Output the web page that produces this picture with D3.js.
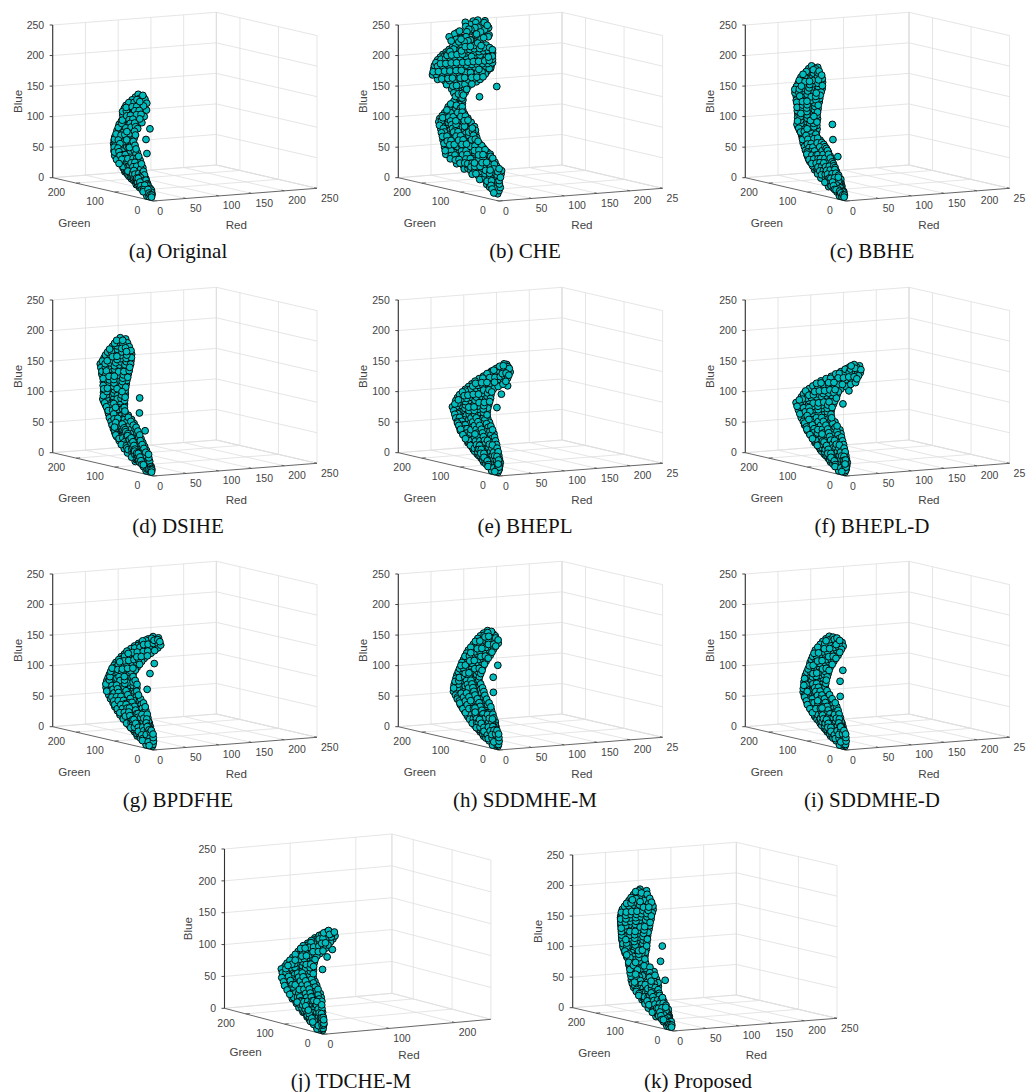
<!DOCTYPE html>
<html>
<head>
<meta charset="utf-8">
<style>
  html, body { margin: 0; background: #fff; }
  .tick-label { font: 10.5px "Liberation Sans", sans-serif; fill: #444; }
  .axis-label { font: 11.6px "Liberation Sans", sans-serif; fill: #444; }
  .caption { font: 21px "Liberation Serif", serif; fill: #111; text-anchor: middle; }
</style>
<script src="https://cdn.jsdelivr.net/npm/d3@7"></script>
</head>
<body>
<svg id="chart" width="1026" height="1092"></svg>
<script>
// rows are [red, blue, green, green, ...]
const pointsA = [[2,5,8,14,20],[4,10,10,18,26,33],[6,15,15,24,35,46],[8,20,27,36,47,58],[9,25,32,45,58,72],[11,30,38,52,66,78,85],[13,35,45,60,75,88,95],[15,40,51,68,84,97,104],[17,45,56,72,90,105,115],[19,50,63,80,98,114,126],[21,55,70,88,106,122,134],[23,60,77,95,112,128,141],[25,65,84,102,120,134,144],[26,70,89,106,124,138,147],[28,75,95,112,128,149],[30,80,103,120,136,151],[32,85,104,122,138,151],[34,90,104,118,135,152],[36,95,110,126,142,152],[38,100,105,122,138,153],[40,105,110,128,144,151],[42,110,101,118,134,150],[43,115,108,126,142,152],[45,120,100,120,138,156],[47,125,110,128,146,155],[49,130,101,120,138,154],[51,135,112,130,150],[53,140,107,125,145],[55,145,115,128,140],[57,150,124,136],[39,104,75],[33,87,75],[25,67,59]]
const fillA = [[5,12,14,22,30],[7,17,20,32,44],[9,22,32,44,56],[10,27,40,54,68],[12,32,46,60,74],[14,37,52,68,84],[16,42,60,76,92,104],[18,47,66,84,100,116],[20,52,74,92,108,126],[22,57,80,98,116,132],[24,62,86,104,122,136],[26,67,94,112,130,144],[28,72,100,118,134,146],[29,77,104,122,140,150],[33,87,110,130,146],[35,92,112,128,146],[37,97,116,134,148],[39,102,112,130,148],[41,107,118,136,150],[43,112,110,126,144],[44,117,116,134,150],[46,122,110,130,148],[48,127,118,136,152],[50,132,110,128,146],[52,137,118,138],[54,142,116,134],[56,147,120,134]]
const pointsB = [[4,10,10,20],[6,15,10,20,28],[8,20,10,22,34,45],[9,25,14,28,46,65],[11,30,18,36,54,72,88],[13,35,18,38,58,76,95,112],[15,40,20,40,60,80,98,118,135],[17,45,22,42,62,84,104,126,142,155],[19,50,38,56,76,96,118,138,156,170],[21,55,46,66,88,110,130,150,175],[23,60,55,72,92,114,136,158,180],[25,65,65,84,106,128,150,170,185],[26,70,80,98,118,140,160,178,189],[28,75,92,110,132,152,174,194],[30,80,105,122,142,162,184,200],[32,85,112,132,152,172,192,205],[34,90,118,136,158,178,198,212],[36,95,122,142,162,184,204,217],[38,100,128,148,168,190,208,218],[40,105,140,158,178,198,215],[42,110,152,170,190,212],[43,115,162,180,196,208],[45,120,170,188,208],[47,125,175,190,205],[49,130,178,190,200],[51,135,180,196],[29,145,145,155,162],[30,150,143,156,168],[31,155,140,158,175],[32,160,138,156,174,190],[33,165,136,156,176,196,215],[34,170,128,148,170,190,212,230],[35,175,118,138,160,182,206,230],[36,180,110,132,154,178,202,218,230],[37,185,104,126,150,174,198,222,230],[38,190,100,120,144,168,192,216,228],[39,195,97,118,140,164,190,212,225],[40,200,93,114,138,162,186,206,220],[41,205,90,112,136,160,184,204,215],[42,210,88,108,132,156,180,198,208],[43,215,90,112,136,160,182,202],[44,220,92,114,138,162,184,195],[45,225,93,116,140,164,188],[46,230,95,118,142,166,182],[47,235,113,135,160,178],[40,250,170],[60,250,180],[80,250,190],[100,250,200],[100,250,230],[115,250,250],[90,250,240],[105,250,245],[120,250,240],[30,240,180],[50,240,170],[70,240,180],[85,240,170],[60,240,210],[50,240,200],[80,240,210],[100,240,210],[35,175,65],[31,153,103]]
const fillB = [[7,17,15,24,36],[10,27,20,36,56],[12,32,26,44,64,80],[14,37,28,48,68,86,104],[16,42,30,50,70,90,108,128],[18,47,30,52,74,94,114,134,150],[20,52,46,66,86,108,128,148,164],[22,57,56,78,100,120,140,162],[24,62,62,82,104,126,148,170],[26,67,74,96,118,140,160,180],[27,72,86,108,130,152,170,186],[29,77,100,122,142,164,184],[31,82,114,132,152,172,194],[33,87,122,142,162,182,200],[35,92,128,148,170,190,208],[37,97,132,152,174,194,212],[39,102,138,158,178,198,212],[41,107,150,168,188,206],[43,112,160,178,198],[44,117,170,188,204],[46,122,178,196],[48,127,184,198],[30,147,150,160],[31,152,148,162],[32,157,150,166],[33,162,146,166,184],[34,167,146,166,186,206],[35,172,138,160,180,202,222],[36,177,128,150,172,194,218],[37,182,120,144,166,190,210],[38,187,114,138,162,186,210],[39,192,110,132,156,180,204,222],[40,197,106,130,152,178,200,218],[41,202,104,126,150,174,196,212],[42,207,100,124,148,172,194,206],[43,212,98,120,144,168,190,200],[44,217,102,124,150,172,192],[45,222,104,128,152,174],[46,227,106,128,152,176],[47,232,104,126,150,170],[60,245,160,185],[75,245,175,200],[90,245,190,215],[105,245,205,225],[85,250,220],[70,250,205],[110,250,225],[55,240,140],[65,240,150],[45,238,150],[75,240,155],[38,236,175],[36,232,185],[16,44,60,68,76,84,92,100,108,116],[18,46,70,80,90,100,110,120,130,140],[70,230,185,190,195,200,205,210,215],[60,205,125,128,131,134,137],[58,195,120,123,126,129,132]]
const pointsC = [[2,5,8,14,20],[4,10,12,20,30],[6,15,20,32,44,55],[8,20,24,38,54,68],[9,25,28,44,62,80],[11,30,32,48,66,82,92],[13,35,41,58,74,90,103],[15,40,50,66,82,98,112],[17,45,57,72,90,106,122],[19,50,65,82,98,116,130],[21,55,72,90,106,124,137],[23,60,80,98,114,132,144],[25,65,88,104,122,138,150],[26,70,95,112,128,144,155],[28,75,105,122,140,160],[30,80,118,134,150,165],[32,85,131,146,160,172],[34,90,134,150,166,180],[36,95,136,154,172,188],[38,100,140,158,176,190],[40,105,143,160,178,193],[42,110,145,164,182,196],[43,115,148,166,184,199],[45,120,150,170,188,203],[47,125,152,172,192,206],[49,130,155,176,196,212],[51,135,156,176,198,215],[53,140,158,180,202,222],[55,145,160,182,206,226],[57,150,161,184,206,225],[59,155,162,184,206,224],[60,160,163,186,208,223],[62,165,166,188,208,222],[64,170,170,194,220],[66,175,175,196,215],[68,180,185,200,212],[70,185,192,208],[40,107,103],[32,85,88],[23,62,60]]
const fillC = [[5,12,16,25],[7,17,26,38,50],[9,22,32,46,62],[10,27,36,52,70],[12,32,40,58,74,88],[14,37,50,66,82,98],[16,42,56,74,90,106],[18,47,62,80,98,114,126],[20,52,70,88,106,124],[22,57,78,96,114,130],[24,62,86,104,122,140],[26,67,92,110,130,146],[27,72,100,118,136,150],[29,77,112,130,148,162],[31,82,126,140,156,168],[33,87,134,148,164,176],[35,92,144,160,176,184],[37,97,146,164,180],[39,102,150,168,184],[41,107,154,170,188],[43,112,156,174,190],[44,117,158,176,192],[46,122,160,180,196],[48,127,162,182,200,209],[50,132,166,186,206],[52,137,166,188,208],[54,142,170,192,214],[56,147,172,194,216],[58,152,172,194,214],[60,157,174,196,214],[61,162,176,198,216],[63,167,178,198,214],[65,172,184,206],[67,177,186,204],[69,182,196,208]]
const pointsD = [[2,5,8,15,22],[4,10,11,21,32],[6,15,19,31,45,57],[8,20,23,39,55,70],[9,25,27,45,63,82],[11,30,31,49,67,84,94],[13,35,40,57,75,92,105],[15,40,48,65,83,100,114],[17,45,56,73,91,108,124],[19,50,64,81,99,117,132],[21,55,71,89,107,125,139],[23,60,79,97,115,133,146],[25,65,87,105,123,140,152],[26,70,94,113,130,146,158],[28,75,104,123,142,163],[30,80,116,135,152,168],[32,85,128,146,162,176],[34,90,133,151,168,184],[36,95,136,155,174,192],[38,100,139,158,178,194],[40,105,141,161,180,197],[42,110,144,164,184,200],[43,115,146,167,186,203],[45,120,148,170,190,206],[47,125,150,172,194,210],[49,130,152,175,198,216],[51,135,153,176,200,220],[53,140,155,180,204,226],[55,145,156,182,208,231],[57,150,158,184,208,229],[59,155,159,184,208,228],[60,160,160,186,208,226],[62,165,162,188,208,224],[64,170,165,190,212,222],[66,175,170,194,218],[68,180,178,198,216],[70,185,186,204,214],[72,190,194,208],[41,109,105],[33,87,92],[24,63,62]]
const fillD = [[5,12,16,26],[7,17,25,38,50],[9,22,31,47,63],[10,27,36,54,72],[12,32,40,58,76,89],[14,37,48,66,84,100],[16,42,56,74,92,108],[18,47,64,82,100,116,128],[20,52,72,90,108,126],[22,57,80,98,116,134],[24,62,88,106,124,142],[26,67,96,114,134,148],[27,72,104,122,138,154],[29,77,114,132,152,166],[31,82,126,142,158,172],[33,87,136,154,170,180],[35,92,146,162,180,188],[37,97,148,166,184],[39,102,150,170,188],[41,107,152,172,190],[43,112,154,174,192],[44,117,156,178,196],[46,122,160,180,200],[48,127,162,184,204],[50,132,164,186,208,218],[52,137,166,188,210],[54,142,168,192,216],[56,147,170,196,220],[58,152,172,196,218],[60,157,172,196,218],[61,162,174,198,216],[63,167,176,200,216],[65,172,180,204],[67,177,186,208],[69,182,196,210],[71,187,200]]
const pointsE = [[2,5,6,14,22],[4,10,6,20,35],[6,15,8,22,36,50],[8,20,10,26,44,60],[9,25,14,32,52,72],[11,30,19,38,60,85],[13,35,24,44,64,82,96],[15,40,30,52,72,92,105],[17,45,35,56,78,98,115],[19,50,41,62,84,106,125],[21,55,47,68,92,114,135],[23,60,52,74,98,122,143],[25,65,59,82,106,128,150],[26,70,65,88,112,134,156],[28,75,72,96,120,144,162],[30,80,80,104,128,150,168],[32,85,85,108,132,156,175],[34,90,88,112,136,156,172],[36,95,90,114,138,160,173],[38,100,91,116,140,160,172],[40,105,92,116,140,158,170],[42,110,93,116,138,156,166],[43,115,94,116,136,160],[45,120,95,116,136,155],[47,125,94,114,134,150],[49,130,85,106,128,145],[51,135,76,98,120,138],[53,140,72,92,114,130],[55,145,71,90,110,124],[57,150,71,88,104,116],[59,155,71,86,108],[60,160,75,88,100],[62,165,85,92],[51,134,64],[45,120,70],[37,99,68]]
const fillE = [[3,7,10,20],[5,12,12,26],[7,17,14,28,44],[9,22,18,36,54],[10,27,24,44,64],[12,32,30,50,72,84],[14,37,34,54,74,92],[16,42,42,62,82,100],[18,47,46,68,88,108],[20,52,52,74,96,116,128],[22,57,58,80,104,126],[24,62,64,86,110,134],[26,67,72,94,118,140],[27,72,78,100,124,148],[29,77,86,108,134,156],[31,82,92,116,140,162],[33,87,96,120,144,166],[35,92,100,124,146,166],[37,97,102,126,150,168],[39,102,104,128,150,168],[41,107,104,128,150,164],[43,112,104,126,148,160],[44,117,104,126,148],[46,122,104,126,146],[48,127,104,124,142],[50,132,94,116,136],[52,137,86,108,130],[54,142,80,102,122],[56,147,80,100,118],[58,152,80,96,112],[60,157,78,94,104],[61,162,80,92]]
const pointsF = [[2,5,6,14,22],[4,10,6,20,35],[6,15,8,22,38,50],[8,20,10,28,46,60],[9,25,14,32,54,72],[11,30,19,40,62,85],[13,35,24,46,68,84,96],[15,40,30,50,74,92,105],[17,45,35,58,80,100,116],[19,50,41,64,86,108,127],[21,55,47,70,94,116,137],[23,60,52,76,100,124,146],[25,65,58,84,108,132,153],[26,70,67,92,116,140,160],[28,75,76,100,124,148,167],[30,80,88,112,136,156,174],[32,85,93,116,140,164,181],[34,90,96,120,144,168,187],[36,95,97,122,146,168,182],[38,100,97,122,146,166,180],[40,105,97,120,144,164,178],[42,110,96,120,144,164,176],[43,115,96,118,142,168],[45,120,96,118,140,162],[47,125,93,114,136,156],[49,130,82,106,128,148],[51,135,74,96,118,138],[53,140,68,90,110,128],[55,145,65,86,104,120],[57,150,64,82,98,110],[59,155,63,80,102],[60,160,63,78,92],[62,165,70,84],[53,139,65],[47,125,72],[39,104,74]]
const fillF = [[3,7,10,20],[5,12,12,28],[7,17,14,30,44],[9,22,20,38,54],[10,27,24,44,64],[12,32,30,52,74,86],[14,37,36,56,76,92],[16,42,40,62,84,100],[18,47,46,70,90,110],[20,52,52,76,98,118,130],[22,57,58,82,106,128],[24,62,64,88,112,136],[26,67,72,96,120,146],[27,72,80,104,128,152],[29,77,88,112,136,160],[31,82,100,124,146,166],[33,87,104,128,152,174],[35,92,108,132,156,178],[37,97,110,134,158,176],[39,102,110,134,156,172],[41,107,108,132,154,170],[43,112,108,132,154],[44,117,106,130,156],[46,122,106,130,152],[48,127,104,126,146],[50,132,94,116,138],[52,137,84,106,128],[54,142,78,98,118],[56,147,74,94,112],[58,152,72,90,104],[60,157,72,90,98],[61,162,76,90]]
const pointsG = [[2,5,6,14,22],[4,10,8,20,35],[6,15,14,28,40,52],[8,20,18,32,48,62],[9,25,23,40,58,74],[11,30,28,46,68,88],[13,35,34,52,68,86,100],[15,40,38,58,78,98,112],[17,45,43,64,84,104,122],[19,50,48,70,92,112,132],[21,55,55,76,98,120,140],[23,60,60,84,106,130,150],[25,65,68,92,116,138,158],[26,70,77,100,124,146,165],[28,75,86,108,132,152,170],[30,80,94,116,138,158,174],[32,85,97,120,142,160,175],[34,90,100,122,144,162,175],[36,95,108,128,150,175],[38,100,117,136,156,175],[40,105,120,140,160,175],[42,110,118,138,158,173],[43,115,115,134,154,170],[45,120,112,132,152,166],[47,125,110,130,150,163],[49,130,107,126,144,158],[51,135,102,122,140,155],[53,140,96,116,134,148],[55,145,90,110,128,142],[57,150,85,104,122,135],[59,155,81,100,116,128],[60,160,85,100,115],[62,165,92,106],[48,126,79],[42,110,80],[33,86,72]]
const fillG = [[3,7,10,22],[5,12,14,28],[7,17,20,34,46],[9,22,26,40,54],[10,27,32,50,66],[12,32,36,58,78],[14,37,42,60,78,94],[16,42,48,68,88,104],[18,47,54,74,94,114],[20,52,58,80,102,122],[22,57,66,86,108,130],[24,62,72,96,118,140],[26,67,80,104,128,150],[27,72,90,112,136,158],[29,77,98,120,142,164],[31,82,104,128,148,168],[33,87,108,130,150,170],[35,92,112,134,154,172],[37,97,118,138,160],[39,102,128,148,166],[41,107,128,150,168],[43,112,126,146,164],[44,117,124,144,162],[46,122,122,142,160],[48,127,120,140,156],[50,132,116,134,150],[52,137,112,130,148],[54,142,106,124,140],[56,147,100,118,134],[58,152,94,112,128],[60,157,90,108,122],[61,162,92,108]]
const pointsH = [[2,5,6,13,20],[4,10,8,20,32],[6,15,14,28,40,50],[8,20,18,32,48,62],[9,25,22,38,56,74],[11,30,27,46,66,88],[13,35,32,50,66,84,98],[15,40,35,54,72,92,108],[17,45,42,62,82,102,118],[19,50,48,68,90,110,128],[21,55,55,76,96,118,137],[23,60,60,82,104,126,147],[25,65,68,90,112,134,155],[26,70,76,98,120,142,162],[28,75,84,104,126,146,165],[30,80,90,110,130,150,167],[32,85,97,116,136,154,168],[34,90,105,124,142,169],[36,95,113,132,150,170],[38,100,115,134,152,170],[40,105,115,136,154,170],[42,110,115,134,152,170],[43,115,115,136,154,169],[45,120,114,134,152,168],[47,125,113,132,150,168],[49,130,111,130,150,167],[51,135,109,128,148,166],[53,140,108,128,146,163],[55,145,107,126,144,160],[57,150,105,124,142,158],[59,155,102,122,140,155],[60,160,104,122,138,150],[62,165,115,130,145],[64,170,128,138],[46,123,81],[39,104,81],[31,82,67]]
const fillH = [[3,7,10,18],[5,12,14,26],[7,17,22,34,46],[9,22,24,40,54],[10,27,30,46,66],[12,32,36,56,78],[14,37,40,58,74,90],[16,42,44,62,82,100],[18,47,52,72,92,110],[20,52,58,78,100,120],[22,57,66,86,106,128],[24,62,70,92,114,136],[26,67,78,100,122,146],[27,72,86,108,130,152],[29,77,94,114,136,156],[31,82,100,120,140,158],[33,87,106,126,146,160],[35,92,114,132,152,162],[37,97,122,140,160],[39,102,124,144,160],[41,107,124,144,162],[43,112,124,144,160],[44,117,124,144,160],[46,122,122,142,160],[48,127,122,140,158],[50,132,120,140,158],[52,137,118,138,156],[54,142,116,136,154],[56,147,114,134,150],[58,152,112,130,148],[60,157,110,130,146],[61,162,112,130,142],[63,167,122,136]]
const pointsI = [[2,5,6,13,20],[4,10,8,20,32],[6,15,14,28,40,50],[8,20,18,32,48,62],[9,25,22,38,56,72],[11,30,27,44,64,85],[13,35,34,52,68,84,97],[15,40,38,56,74,92,107],[17,45,43,62,82,100,117],[19,50,50,70,90,110,127],[21,55,56,76,96,116,134],[23,60,63,84,104,124,142],[25,65,70,90,110,130,150],[26,70,80,98,118,138,155],[28,75,90,108,126,144,158],[30,80,100,116,132,148,160],[32,85,108,124,140,163],[34,90,110,128,146,165],[36,95,112,130,148,166],[38,100,113,132,150,166],[40,105,114,134,152,166],[42,110,115,132,150,166],[43,115,114,134,152,166],[45,120,112,130,150,166],[47,125,111,130,148,166],[49,130,109,128,148,166],[51,135,107,126,146,166],[53,140,106,126,146,163],[55,145,105,124,142,160],[57,150,104,122,140,157],[59,155,110,126,142,152],[60,160,125,135,145],[43,115,81],[37,98,78],[29,76,64]]
const fillI = [[3,7,10,18],[5,12,14,26],[7,17,22,34,46],[9,22,24,40,54],[10,27,30,46,64],[12,32,34,54,74],[14,37,42,60,76,90],[16,42,46,64,82,100],[18,47,52,72,90,110],[20,52,60,80,100,120],[22,57,68,86,106,126],[24,62,74,94,114,134],[26,67,80,100,120,142],[27,72,90,108,128,146],[29,77,98,116,134,152],[31,82,108,124,140,156],[33,87,116,132,150],[35,92,120,138,156],[37,97,122,140,158],[39,102,122,142,158],[41,107,124,142,160],[43,112,124,142,158],[44,117,124,142,160],[46,122,122,140,158],[48,127,120,140,158],[50,132,118,138,156],[52,137,116,136,156],[54,142,116,134,154],[56,147,114,132,150],[58,152,116,134,150],[60,157,118,132,148]]
const pointsJ = [[2,5,6,13,20],[4,10,8,20,32],[6,15,9,22,34,46],[8,20,13,26,42,55],[9,25,17,32,48,65],[11,30,21,38,58,78],[13,35,26,44,60,76,90],[15,40,30,48,66,84,102],[17,45,33,52,72,92,110],[19,50,38,58,78,98,118],[21,55,44,64,86,106,127],[23,60,53,72,94,114,135],[25,65,60,80,102,122,143],[26,70,66,88,108,130,150],[28,75,74,94,114,136,156],[30,80,77,96,116,136,150],[32,85,80,100,120,136,148],[34,90,83,102,122,144],[36,95,85,104,122,140],[38,100,86,104,120,137],[40,105,85,102,118,133],[42,110,80,98,114,130],[43,115,74,92,110,125],[45,120,70,88,104,117],[47,125,68,84,100,111],[49,130,65,80,94,105],[51,135,62,76,88,97],[53,140,60,74,89],[55,145,65,80],[46,120,55],[41,108,60],[34,89,60]]
const fillJ = [[3,7,10,18],[5,12,12,26],[7,17,16,28,40],[9,22,20,34,50],[10,27,24,40,60],[12,32,28,46,68],[14,37,34,52,68,84],[16,42,38,56,74,94],[18,47,42,62,82,102],[20,52,48,68,88,110],[22,57,54,74,96,118],[24,62,62,82,104,126],[26,67,70,90,112,134],[27,72,76,98,120,142],[29,77,84,104,126,146],[31,82,86,106,126,144],[33,87,90,110,130,142],[35,92,92,112,132],[37,97,94,112,130],[39,102,94,110,128],[41,107,92,108,124],[43,112,86,104,120],[44,117,82,100,116],[46,122,78,96,110],[48,127,76,92,104],[50,132,72,86,98],[52,137,68,82,92],[54,142,70,84]]
const pointsK = [[2,5,8,14,20],[4,10,12,22,32],[6,15,20,32,44,55],[8,20,24,38,54,68],[9,25,28,44,62,80],[11,30,32,48,66,82,92],[13,35,41,58,74,90,103],[15,40,50,66,84,100,115],[17,45,57,74,92,110,125],[19,50,69,84,102,120,135],[21,55,75,92,110,128,142],[23,60,78,96,116,134,148],[25,65,82,100,120,138,152],[26,70,88,106,124,142,156],[28,75,95,112,130,146,160],[30,80,101,118,134,150,165],[32,85,115,130,146,170],[34,90,130,146,160,175],[36,95,135,150,166,182],[38,100,138,154,172,190],[40,105,140,158,178,198],[42,110,141,160,182,202],[43,115,142,164,186,206],[45,120,145,166,188,210],[47,125,147,168,192,214],[49,130,150,172,196,218],[51,135,152,174,198,222],[53,140,153,176,202,226],[55,145,155,178,204,230],[57,150,157,182,208,233],[59,155,158,184,210,235],[60,160,159,184,210,234],[62,165,160,184,208,232],[64,170,161,186,210,230],[66,175,165,188,210,227],[68,180,172,192,212,225],[70,185,180,200,222],[72,190,190,205,220],[74,195,195,212],[45,120,105],[37,97,96],[27,71,67]]
const fillK = [[5,12,18,28],[7,17,26,38,50],[9,22,32,46,62],[10,27,36,54,72],[12,32,40,58,76,88],[14,37,50,66,84,98],[16,42,58,76,92,110],[18,47,66,84,102,120],[20,52,76,94,112,130],[22,57,84,102,120,138],[24,62,90,108,126,144],[26,67,96,114,132,150],[27,72,104,122,138,156],[29,77,110,126,142,162],[31,82,124,140,156,168],[33,87,138,154,168],[35,92,142,158,172,180],[37,97,144,160,178,188],[39,102,148,168,186,194],[41,107,150,170,190,200],[43,112,152,172,194,204],[44,117,154,176,198,208],[46,122,156,178,200,212],[48,127,160,182,206,216],[50,132,162,184,208,220],[52,137,164,188,212,224],[54,142,166,190,216,228],[56,147,168,192,218,232],[58,152,170,196,222],[60,157,170,198,224],[61,162,172,198,222],[63,167,172,198,222],[65,172,174,198,220],[67,177,178,200,220],[69,182,186,206,218],[71,187,192,212],[73,192,200,214]]
// the dark low end of the clouds, packed tight
const denseNarrow = [[3,8,9,13,17,21],[5,13,14,18,22,26,30,34,38],[7,18,24,28,32,36,40,44,48,52,56],[9,23,30,34,38,42,46,50,54,58,62,66],[10,28,36,40,44,48,52,56,60,64,68,72,76,80],[12,33,44,48,52,58,62,68,74,80,86,90,94],[14,38,52,56,62,68,74,80,86,92,98,102],[16,43,60,66,72,80,88,96,104,110,116],[18,48,72,80,88,96,104,112,120,126],[20,53,90,100,110,120,128,134],[22,58,110,120,130,138]]
const denseWide = [[3,8,6,10,14,18,22],[5,13,8,12,16,20,24,28,32,36,42],[7,18,12,18,24,30,36,42,48,54],[9,23,16,22,28,34,40,46,52,58,64,68],[10,28,22,28,34,40,48,56,64,72,80],[12,33,28,34,42,50,58,66,74,82,90],[14,38,34,42,50,58,66,74,82,90,98,104],[16,43,44,52,60,68,78,88,98,108,114],[18,48,60,70,82,94,106,116,124],[20,53,84,96,108,118,128,134],[22,58,110,120,130,140],[24,63,128,138,148]]

const blueTicks = [0, 50, 100, 150, 200, 250]
const redTicks = [0, 50, 100, 150, 200, 250]
const redTicksWide = [0, 100, 200]
const greenTicks = [0, 100, 200]
const redLabels = ['0', '50', '100', '150', '200', '250']
const redLabelsCut = ['0', '50', '100', '150', '200', '25']
const redLabelsWide = ['0', '100', '200']

// cube edges on screen, px from the front corner
const normalBox = {redMax: 250, greenMax: 261, red: [163.7, -12.7], green: [-100.6, -23.3], blue: -152.7, blueLabelDx: -135.7, greenLabel: [-79, 22], redLabel: [83, 24]}
const wideBox = {redMax: 255, greenMax: 255, red: [167.4, -15], green: [-99, -26], blue: -159.3, blueLabelDx: -135.8, greenLabel: [-78, 17.5], redLabel: [85.5, 21]}

const svg = d3.select('#chart')

function drawPanel (o) {
  const box = o.box
  const g = svg.append('g').attr('transform', `translate(${o.x},${o.y})`)

  const redX = d3.scaleLinear().domain([0, box.redMax]).range([0, box.red[0]])
  const redY = d3.scaleLinear().domain([0, box.redMax]).range([0, box.red[1]])
  const greenX = d3.scaleLinear().domain([0, box.greenMax]).range([0, box.green[0]])
  const greenY = d3.scaleLinear().domain([0, box.greenMax]).range([0, box.green[1]])
  const blueY = d3.scaleLinear().domain([0, 250]).range([0, box.blue])
  const project = (r, gr, b) => [redX(r) + greenX(gr), redY(r) + greenY(gr) + blueY(b)]
  const rMax = box.redMax
  const gMax = box.greenMax

  const seg = (a, b, cls) => g.append('path')
    .attr('d', d3.line()([project(...a), project(...b)]))
    .attr('fill', 'none')
    .attr('stroke', cls === 'axis' ? '#555' : '#dedede')
    .attr('stroke-width', cls === 'axis' ? 0.9 : 0.8)

  // grid on the floor and the two back walls
  o.redTicks.concat(rMax).forEach(t => {
    if (t !== 0) seg([t, 0, 0], [t, gMax, 0])
    seg([t, gMax, 0], [t, gMax, 250])
  })
  o.greenTicks.concat(gMax).forEach(t => {
    if (t !== 0) seg([0, t, 0], [rMax, t, 0])
    seg([rMax, t, 0], [rMax, t, 250])
  })
  blueTicks.forEach(t => {
    seg([0, gMax, t], [rMax, gMax, t])
    seg([rMax, gMax, t], [rMax, 0, t])
  })

  // axes
  seg([0, 0, 0], [rMax, 0, 0], 'axis')
  seg([0, 0, 0], [0, gMax, 0], 'axis')
  g.append('path')
    .attr('d', d3.line()([project(0, gMax, 0), project(0, gMax, 250)]))
    .attr('stroke', '#333').attr('stroke-width', 1.1)

  o.redTicks.forEach(t => seg([t, 0, 0], [t, 7, 0], 'axis'))
  o.greenTicks.forEach(t => seg([0, t, 0], [6, t, 0], 'axis'))

  const blueAxisX = project(0, gMax, 0)[0]
  const blueBase = project(0, gMax, 0)[1]
  blueTicks.forEach(t => {
    g.append('line')
      .attr('x1', blueAxisX - 3).attr('x2', blueAxisX)
      .attr('y1', blueBase + blueY(t)).attr('y2', blueBase + blueY(t))
      .attr('stroke', '#333').attr('stroke-width', 0.9)
    g.append('text').attr('class', 'tick-label')
      .attr('x', blueAxisX - 8.5).attr('y', blueBase + blueY(t) + 3.7)
      .attr('text-anchor', 'end').text(t)
  })
  o.redTicks.forEach((t, i) => {
    const p = project(t, 0, 0)
    g.append('text').attr('class', 'tick-label')
      .attr('x', p[0] + 4).attr('y', p[1] + 13.5)
      .text(o.redLabels[i])
  })
  o.greenTicks.forEach(t => {
    const p = project(0, t, 0)
    g.append('text').attr('class', 'tick-label')
      .attr('x', p[0] + (t === 0 ? -13 : -11)).attr('y', p[1] + 13)
      .attr('text-anchor', 'end').text(t)
  })

  g.append('text').attr('class', 'axis-label')
    .attr('text-anchor', 'middle')
    .attr('transform', `translate(${box.blueLabelDx + 4},${blueBase + blueY(125)}) rotate(-90)`)
    .text('Blue')
  g.append('text').attr('class', 'axis-label').attr('text-anchor', 'middle')
    .attr('x', box.greenLabel[0]).attr('y', box.greenLabel[1] + 4).text('Green')
  g.append('text').attr('class', 'axis-label').attr('text-anchor', 'middle')
    .attr('x', box.redLabel[0]).attr('y', box.redLabel[1] + 4).text('Red')

  // far points first, loosely, so the front of the cloud stays on top
  const depth = d => d.r + d.g + (d.g * 37 + d.b * 11) % 70
  const points = o.rows
    .flatMap(row => row.slice(2).map(gr => ({r: row[0], b: row[1], g: gr})))
    .sort((a, b) => depth(b) - depth(a))

  g.append('g').selectAll('circle').data(points).join('circle')
    .attr('cx', d => project(d.r, d.g, d.b)[0])
    .attr('cy', d => project(d.r, d.g, d.b)[1])
    .attr('r', 3.4)
    .attr('fill', '#00bcbc')
    .attr('stroke', '#050a0a')
    .attr('stroke-width', 1)

  svg.append('text').attr('class', 'caption')
    .attr('x', o.capX).attr('y', o.capY).text(o.caption)
}

const col = [153.3, 498.9, 845.9]
const row = [201, 476, 750]
const cfg = (rows, x, y, caption, capX, capY, labels) => ({
  rows, x, y, caption, capX, capY,
  box: normalBox, redTicks, greenTicks, redLabels: labels
})

drawPanel(cfg(pointsA.concat(fillA, denseNarrow), col[0], row[0], '(a) Original', 178, 258, redLabels))
drawPanel(cfg(pointsB.concat(fillB), col[1], row[0], '(b) CHE', 525, 258, redLabelsCut))
drawPanel(cfg(pointsC.concat(fillC, denseNarrow), col[2], row[0], '(c) BBHE', 872, 258, redLabelsCut))
drawPanel(cfg(pointsD.concat(fillD, denseNarrow), col[0], row[1], '(d) DSIHE', 178, 533, redLabels))
drawPanel(cfg(pointsE.concat(fillE, denseWide), col[1], row[1], '(e) BHEPL', 525, 533, redLabelsCut))
drawPanel(cfg(pointsF.concat(fillF, denseWide), col[2], row[1], '(f) BHEPL-D', 872, 533, redLabelsCut))
drawPanel(cfg(pointsG.concat(fillG, denseWide), col[0], row[2], '(g) BPDFHE', 178, 807, redLabels))
drawPanel(cfg(pointsH.concat(fillH, denseWide), col[1], row[2], '(h) SDDMHE-M', 525, 807, redLabelsCut))
drawPanel(cfg(pointsI.concat(fillI, denseWide), col[2], row[2], '(i) SDDMHE-D', 872, 807, redLabelsCut))
drawPanel({
  rows: pointsJ.concat(fillJ, denseWide), x: 323.5, y: 1034.3, caption: '(j) TDCHE-M', capX: 351, capY: 1088,
  box: wideBox, redTicks: redTicksWide, greenTicks, redLabels: redLabelsWide
})
drawPanel(cfg(pointsK.concat(fillK, denseNarrow), 673.3, 1031, '(k) Proposed', 698, 1088, redLabels))
</script>
</body>
</html>
